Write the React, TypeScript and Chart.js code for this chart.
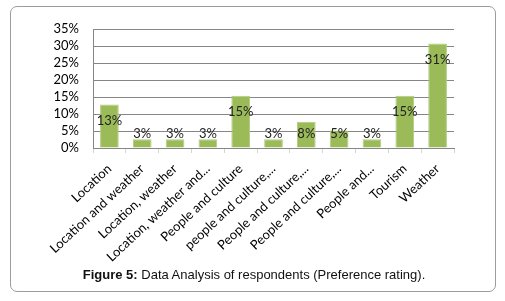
import React, { useEffect, useRef } from "react";
import { Chart, registerables } from "chart.js";

Chart.register(...registerables);

const categories = [
  "Location",
  "Location and weather",
  "Location, weather",
  "Location, weather and...",
  "People and culture",
  "people and culture,...",
  "People and culture,...",
  "People and culture,...",
  "People and...",
  "Tourism",
  "Weather",
];
const shares = [12.82, 2.56, 2.56, 2.56, 15.38, 2.56, 7.69, 5.13, 2.56, 15.38, 30.77];
const shareLabels = ["13%", "3%", "3%", "3%", "15%", "3%", "8%", "5%", "3%", "15%", "31%"];
const yMin = 0;
const yMax = 35;
const yStep = 5;

const valueLabelPlugin = {
  id: "valueLabels",
  afterDatasetsDraw(chart: any) {
    const { ctx } = chart;
    const meta = chart.getDatasetMeta(0);
    const base = chart.scales.y.getPixelForValue(0);
    ctx.save();
    ctx.font = "13px Lato";
    ctx.fillStyle = "#222";
    ctx.textAlign = "center";
    ctx.textBaseline = "middle";
    meta.data.forEach((bar: any, i: number) => {
      const y = Math.min(bar.y + 16, base - 14);
      ctx.fillText(shareLabels[i], bar.x, y);
    });
    ctx.restore();
  },
};

export default function App() {
  const ref = useRef<HTMLCanvasElement>(null);
  useEffect(() => {
    document.body.style.margin = "0";
    const chart = new Chart(ref.current!, {
      type: "bar",
      data: {
        labels: categories,
        datasets: [
          {
            data: shares,
            backgroundColor: "#9BBB59",
            borderColor: "#B3CC80",
            borderWidth: 1,
            barPercentage: 0.57,
            categoryPercentage: 1,
          },
        ],
      },
      options: {
        animation: false,
        responsive: false,
        maintainAspectRatio: false,
        layout: { padding: { left: 0, right: 51, top: 29, bottom: 0 } },
        plugins: { legend: { display: false }, tooltip: { enabled: false } },
        scales: {
          x: {
            grid: {
              display: true,
              drawOnChartArea: false,
              drawTicks: true,
              tickLength: 5,
              color: "#d4d4d4",
              offset: true,
            },
            border: { display: true, color: "#868686" },
            ticks: {
              autoSkip: false,
              maxRotation: 43,
              minRotation: 43,
              padding: 8,
              color: "#000",
              font: { family: "Lato", size: 13 },
            },
            afterFit: (s: any) => {
              s.height = 120;
            },
          },
          y: {
            min: yMin,
            max: yMax,
            grid: { color: "#868686", drawTicks: false },
            border: { display: true, color: "#868686" },
            ticks: {
              stepSize: yStep,
              autoSkip: false,
              padding: 14,
              color: "#000",
              font: { family: "Lato", size: 13 },
              callback: (v: any) => v + "%",
            },
            afterFit: (s: any) => {
              s.width = 93;
            },
          },
        },
      },
      plugins: [valueLabelPlugin],
    });
    return () => chart.destroy();
  }, []);

  return (
    <div style={{ position: "relative", width: 505, height: 301, overflow: "hidden", background: "#fff" }}>
      <div
        style={{
          position: "absolute",
          left: 10,
          top: 6,
          width: 484,
          height: 284,
          border: "1px solid #9c9c9c",
          borderRadius: 7,
        }}
      />
      <canvas ref={ref} width={505} height={268} style={{ position: "absolute", left: 0, top: 0, width: 505, height: 268 }} />
      <div
        style={{
          position: "absolute",
          left: 0,
          width: 508,
          top: 267,
          textAlign: "center",
          fontFamily: "'Liberation Sans', Arial, sans-serif",
          fontSize: 13,
          lineHeight: "16px",
          color: "#111",
          whiteSpace: "nowrap",
        }}
      >
        <b>Figure 5:</b> Data Analysis of respondents (Preference rating).
      </div>
    </div>
  );
}
